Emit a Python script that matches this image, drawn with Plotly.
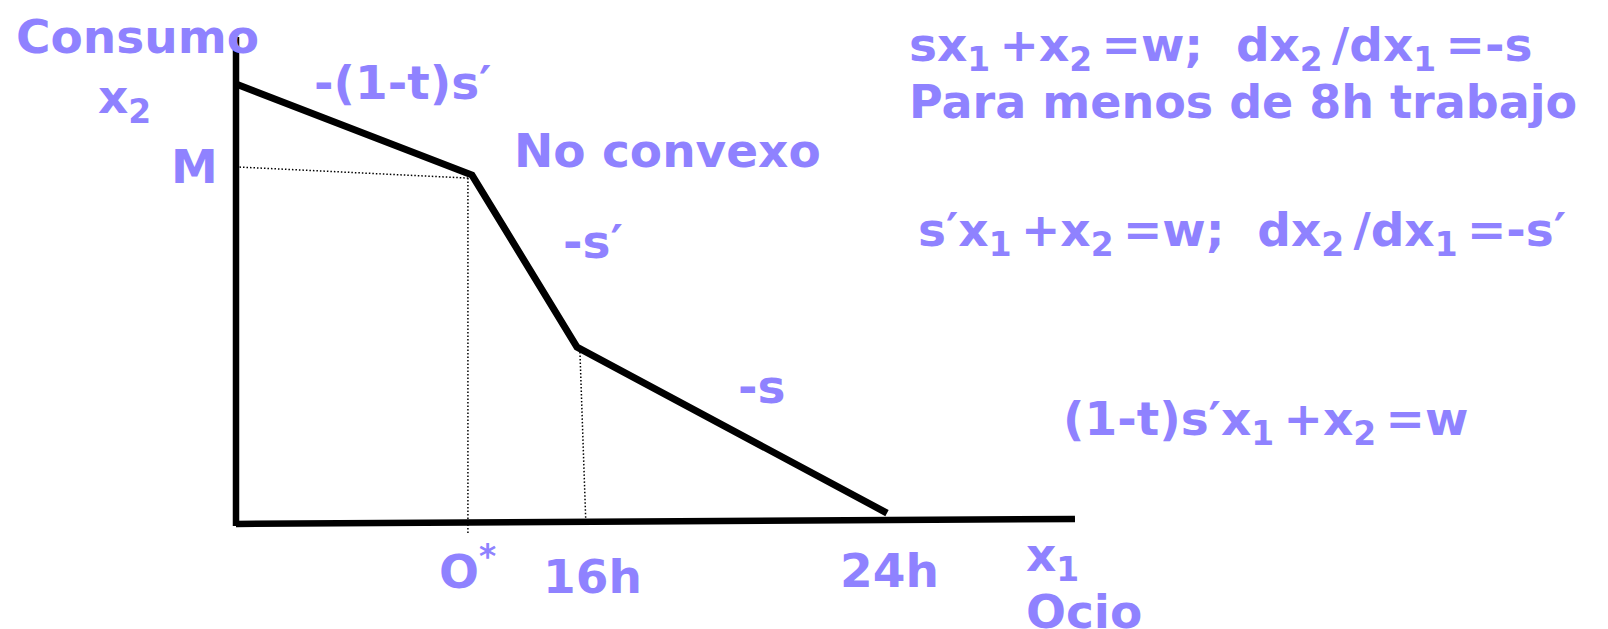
import plotly.graph_objects as go

W, H = 1608, 629
PURPLE = "#8F82FF"
FONT = "DejaVu Sans"

# Diagram data (x1 = ocio in hours-like units, x2 = consumo)
budget_x = [0.0, 8.70, 12.57, 24.0]
budget_y = [16.15, 12.79, 6.45, 0.33]

vaxis_x = [0.0, 0.0]
vaxis_y = [-0.15, 17.88]
haxis_x = [0.0, 30.93]
haxis_y = [-0.07, 0.11]

m_guide_x = [0.0, 8.55]
m_guide_y = [13.09, 12.68]
ostar_guide_x = [8.55, 8.55]
ostar_guide_y = [12.68, -0.41]
h16_guide_x = [12.68, 12.90]
h16_guide_y = [6.27, -0.11]

# Axis mapping (units per pixel) — origin of diagram
PX_PER_UNIT = 27.125
ORIGIN_PX = (236, 522)
x_range = [-ORIGIN_PX[0] / PX_PER_UNIT, (W - ORIGIN_PX[0]) / PX_PER_UNIT]
y_range = [-(H - ORIGIN_PX[1]) / PX_PER_UNIT, ORIGIN_PX[1] / PX_PER_UNIT]

fig = go.Figure()

solid = dict(color="black", width=6.5)
dotted = dict(color="black", width=1.5, dash="1.5px,2px")

fig.add_trace(go.Scatter(x=vaxis_x, y=vaxis_y, mode="lines", line=solid, hoverinfo="skip"))
fig.add_trace(go.Scatter(x=haxis_x, y=haxis_y, mode="lines", line=solid, hoverinfo="skip"))
fig.add_trace(go.Scatter(x=m_guide_x, y=m_guide_y, mode="lines", line=dotted, hoverinfo="skip"))
fig.add_trace(go.Scatter(x=ostar_guide_x, y=ostar_guide_y, mode="lines", line=dotted, hoverinfo="skip"))
fig.add_trace(go.Scatter(x=h16_guide_x, y=h16_guide_y, mode="lines", line=dotted, hoverinfo="skip"))
fig.add_trace(go.Scatter(x=budget_x, y=budget_y, mode="lines",
                         line=dict(color="black", width=7), hoverinfo="skip"))

TS = "\u2009"  # thin space after subscripts
S1 = "<sub>1</sub>" + TS
S2 = "<sub>2</sub>" + TS
P = "\u2032"

# Labels: (text, left px, center-y px, font size)
labels = [
    ("Consumo", 15, 36, 47),
    ("x<sub>2</sub>", 97, 100, 47),
    ("M", 170, 166, 47),
    ("-(1-t)s" + P, 313, 83, 47),
    ("No convexo", 513, 150, 47),
    ("-s" + P, 562, 242, 47),
    ("-s", 737, 386, 47),
    ("sx" + S1 + "+x" + S2 + "=w;\u00a0\u00a0dx" + S2 + "/dx" + S1 + "=-s", 908, 48, 47),
    ("Para menos de 8h trabajo", 908, 102, 46),
    ("s" + P + "x" + S1 + "+x" + S2 + "=w;\u00a0\u00a0dx" + S2 + "/dx" + S1 + "=-s" + P, 917, 233, 47),
    ("(1-t)s" + P + "x" + S1 + "+x" + S2 + "=w", 1062, 422, 47),
    ("O<sup>*</sup>", 438, 568, 47),
    ("16h", 542, 576, 47),
    ("24h", 839, 570, 47),
    ("x<sub>1</sub>", 1025, 558, 47),
    ("Ocio", 1025, 611, 47),
]

for text, lx, cy, fs in labels:
    fig.add_annotation(
        text=text, xref="paper", yref="paper",
        x=lx / W, y=1 - cy / H, xanchor="left", yanchor="middle",
        showarrow=False, borderpad=0,
        font=dict(family=FONT, size=fs, color=PURPLE, weight="bold"),
    )

fig.update_layout(
    width=W, height=H,
    margin=dict(l=0, r=0, t=0, b=0),
    paper_bgcolor="white", plot_bgcolor="white",
    showlegend=False,
    xaxis=dict(range=x_range, visible=False, fixedrange=True),
    yaxis=dict(range=y_range, visible=False, fixedrange=True),
)

fig.write_html(
    "out.html",
    config={"displayModeBar": False},
    post_script="document.body.style.margin='0';document.body.style.overflow='hidden';",
)
